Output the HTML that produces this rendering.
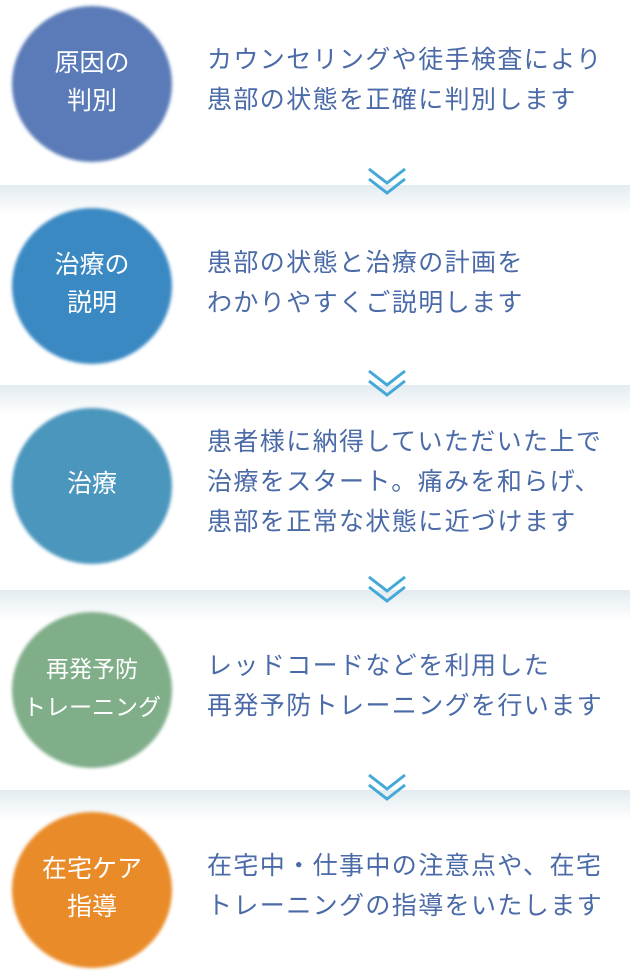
<!DOCTYPE html>
<html><head><meta charset="utf-8"><style>
body{margin:0;width:630px;height:980px;background:#fff;position:relative;overflow:hidden;font-family:"Liberation Sans","Noto Sans CJK JP",sans-serif}
.sh{position:absolute;left:0;width:630px;height:30px;background:linear-gradient(to bottom,rgba(185,205,215,0.4),rgba(255,255,255,0))}
.b{position:absolute;left:12px;width:160px;height:156px;border-radius:50%;filter:blur(1.5px)}
.c{position:absolute;left:12px;width:160px;height:152px;color:#fff;font-size:25px;line-height:38px;display:flex;align-items:center;justify-content:center;text-align:center}
.t{position:absolute;left:207px;color:#4a6aa8;font-size:25px;letter-spacing:1.4px;line-height:40px;white-space:nowrap}
.ch{position:absolute;left:366px}
</style></head><body>
<div class="sh" style="top:185px"></div>
<div class="sh" style="top:385px"></div>
<div class="sh" style="top:590px"></div>
<div class="sh" style="top:790px"></div>

<div class="b" style="top:6px;background:#5a7bb7"></div><div class="c" style="top:6px">原因の<br>判別</div>
<div class="t" style="top:40px">カウンセリングや徒手検査により<br>患部の状態を正確に判別します</div>

<div class="b" style="top:208px;background:#3a89c3"></div><div class="c" style="top:208px">治療の<br>説明</div>
<div class="t" style="top:243px">患部の状態と治療の計画を<br>わかりやすくご説明します</div>

<div class="b" style="top:408px;background:#4a96bd"></div><div class="c" style="top:408px">治療</div>
<div class="t" style="top:422px">患者様に納得していただいた上で<br>治療をスタート。痛みを和らげ、<br>患部を正常な状態に近づけます</div>

<div class="b" style="top:612px;background:#7fae89"></div><div class="c" style="top:612px;font-size:23px">再発予防<br>トレーニング</div>
<div class="t" style="top:646px">レッドコードなどを利用した<br>再発予防トレーニングを行います</div>

<div class="b" style="top:812px;background:#e98b28"></div><div class="c" style="top:812px">在宅ケア<br>指導</div>
<div class="t" style="top:846px">在宅中・仕事中の注意点や、在宅<br>トレーニングの指導をいたします</div>

<svg class="ch" style="top:166px" width="42" height="32"><g fill="none" stroke="#44a8d8" stroke-width="3"><polyline points="3,3 21,17 39,3"/><polyline points="3,13 21,27 39,13"/></g></svg>
<svg class="ch" style="top:368px" width="42" height="32"><g fill="none" stroke="#44a8d8" stroke-width="3"><polyline points="3,3 21,17 39,3"/><polyline points="3,13 21,27 39,13"/></g></svg>
<svg class="ch" style="top:574px" width="42" height="32"><g fill="none" stroke="#44a8d8" stroke-width="3"><polyline points="3,3 21,17 39,3"/><polyline points="3,13 21,27 39,13"/></g></svg>
<svg class="ch" style="top:772px" width="42" height="32"><g fill="none" stroke="#44a8d8" stroke-width="3"><polyline points="3,3 21,17 39,3"/><polyline points="3,13 21,27 39,13"/></g></svg>
</body></html>
